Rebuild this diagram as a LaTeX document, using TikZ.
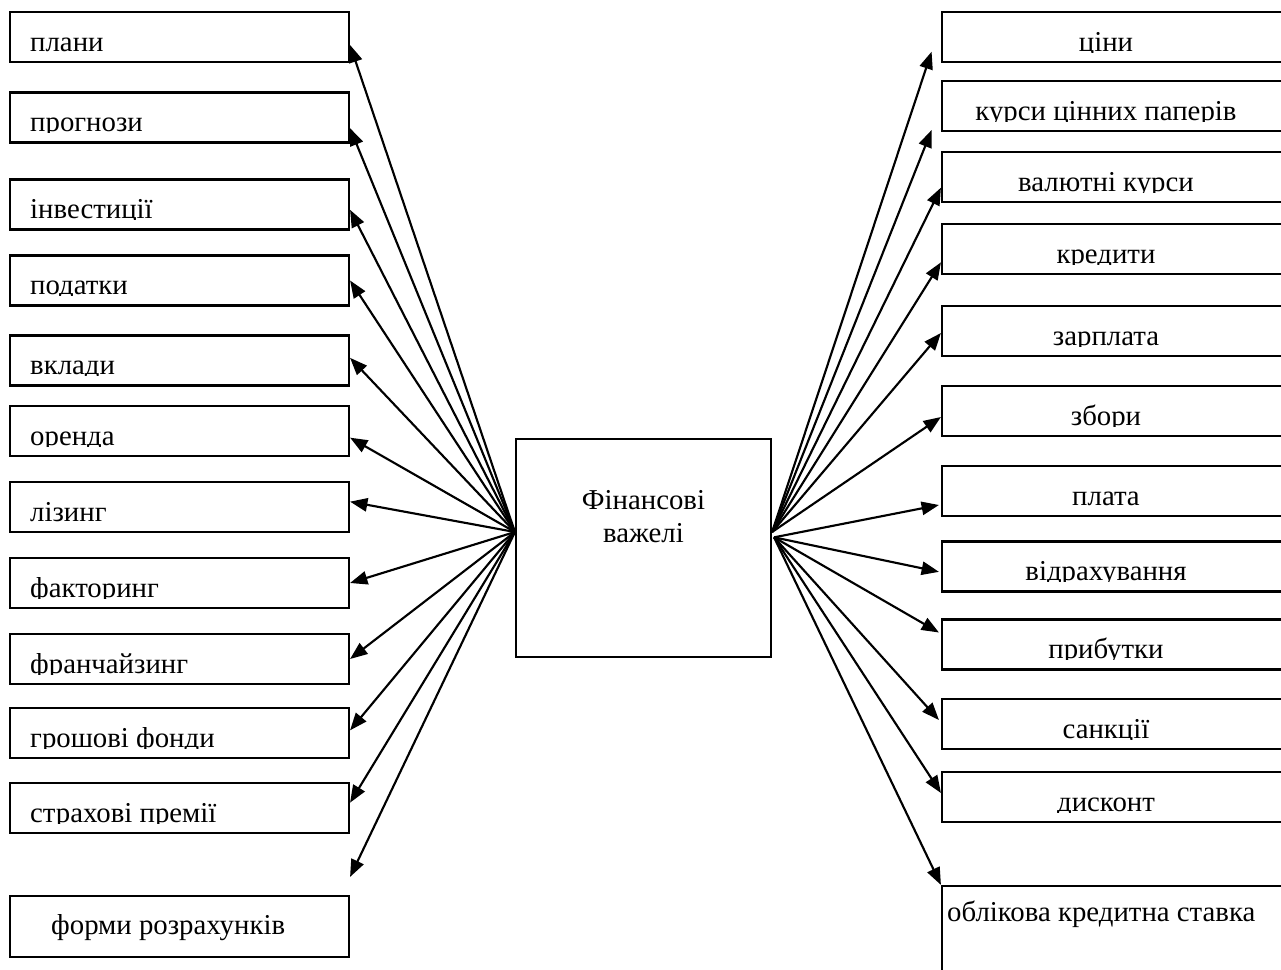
\documentclass[tikz,border=0pt]{standalone}
\usepackage{fontspec}
\setmainfont{Liberation Serif}
\usetikzlibrary{arrows.meta}

\begin{document}
\begin{tikzpicture}[x=0.75pt, y=-0.75pt,
		lbox/.style={draw, line width=1.6pt, minimum width=254.25pt, minimum height=37.5pt, inner sep=0pt},
		rbox/.style={draw, line width=1.6pt, minimum width=261pt, minimum height=37.5pt, inner sep=0pt},
		ltext/.style={anchor=base west, inner sep=0pt, font=\fontsize{21.6pt}{25pt}\selectfont},
		rtext/.style={anchor=base, inner sep=0pt, font=\fontsize{21.6pt}{25pt}\selectfont},
		ctext/.style={anchor=north, align=center, inner sep=0pt, font=\fontsize{21.6pt}{24.75pt}\selectfont},
		lever/.style={-{Triangle[length=13pt, width=10pt]}, line width=1.6pt}]

			\useasboundingbox (0,0) rectangle (1281,970);

			\node[lbox] (plany) at (179.5,37) {};
			\node[lbox] (prognozy) at (179.5,117.5) {};
			\node[lbox] (investytsii) at (179.5,204.5) {};
			\node[lbox] (podatky) at (179.5,280.5) {};
			\node[lbox] (vklady) at (179.5,360.5) {};
			\node[lbox] (orenda) at (179.5,431) {};
			\node[lbox] (lizynh) at (179.5,507) {};
			\node[lbox] (faktorynh) at (179.5,583) {};
			\node[lbox] (franchaizynh) at (179.5,659) {};
			\node[lbox] (fondy) at (179.5,733) {};
			\node[lbox] (premii) at (179.5,808) {};
			\node[lbox, minimum height=45.75pt] (formy) at (179.5,926.5) {};

			\node[rbox] (tsiny) at (1116,37) {};
			\node[rbox] (kursy) at (1116,106) {};
			\node[rbox] (valiutni) at (1116,177) {};
			\node[rbox] (kredyty) at (1116,249) {};
			\node[rbox] (zarplata) at (1116,331) {};
			\node[rbox] (zbory) at (1116,411) {};
			\node[rbox] (plata) at (1116,491) {};
			\node[rbox] (vidrakh) at (1116,566.5) {};
			\node[rbox] (prybutky) at (1116,644.5) {};
			\node[rbox] (sanktsii) at (1116,724) {};
			\node[rbox] (dyskont) at (1116,797) {};
			\node[rbox, minimum height=75pt] (oblikova) at (1116,936) {};

			\node[draw, line width=1.6pt, minimum width=191.25pt, minimum height=163.5pt] (fv) at (643.5,548) {};
			\node[ctext] (fv-t) at ([yshift=-39pt]fv.north) {Фінансові\\важелі};

			\begin{scope}
				\clip (plany.north west) rectangle ([yshift=8pt]plany.south east)
					(prognozy.north west) rectangle ([yshift=8pt]prognozy.south east)
					(investytsii.north west) rectangle ([yshift=8pt]investytsii.south east)
					(podatky.north west) rectangle ([yshift=8pt]podatky.south east)
					(vklady.north west) rectangle ([yshift=8pt]vklady.south east)
					(orenda.north west) rectangle ([yshift=8pt]orenda.south east)
					(lizynh.north west) rectangle ([yshift=8pt]lizynh.south east)
					(faktorynh.north west) rectangle ([yshift=8pt]faktorynh.south east)
					(franchaizynh.north west) rectangle ([yshift=8pt]franchaizynh.south east)
					(fondy.north west) rectangle ([yshift=8pt]fondy.south east)
					(premii.north west) rectangle ([yshift=8pt]premii.south east);
				\node[ltext] (plany-t) at ([xshift=15.75pt,yshift=9pt]plany.south west) {плани};
				\node[ltext] (prognozy-t) at ([xshift=15.75pt,yshift=9pt]prognozy.south west) {прогнози};
				\node[ltext] (investytsii-t) at ([xshift=15.75pt,yshift=9pt]investytsii.south west) {інвестиції};
				\node[ltext] (podatky-t) at ([xshift=15.75pt,yshift=9pt]podatky.south west) {податки};
				\node[ltext] (vklady-t) at ([xshift=15.75pt,yshift=9pt]vklady.south west) {вклади};
				\node[ltext] (orenda-t) at ([xshift=15.75pt,yshift=9pt]orenda.south west) {оренда};
				\node[ltext] (lizynh-t) at ([xshift=15.75pt,yshift=9pt]lizynh.south west) {лізинг};
				\node[ltext] (faktorynh-t) at ([xshift=15.75pt,yshift=9pt]faktorynh.south west) {факторинг};
				\node[ltext] (franchaizynh-t) at ([xshift=15.75pt,yshift=9pt]franchaizynh.south west) {франчайзинг};
				\node[ltext] (fondy-t) at ([xshift=15.75pt,yshift=9pt]fondy.south west) {грошові фонди};
				\node[ltext] (premii-t) at ([xshift=15.75pt,yshift=9pt]premii.south west) {страхові премії};
			\end{scope}
			\node[ltext] (formy-t) at ([xshift=31.5pt,yshift=18pt]formy.south west) {форми розрахунків};

			\begin{scope}
				\clip (tsiny.north west) rectangle ([yshift=8pt]tsiny.south east)
					(kursy.north west) rectangle ([yshift=8pt]kursy.south east)
					(valiutni.north west) rectangle ([yshift=8pt]valiutni.south east)
					(kredyty.north west) rectangle ([yshift=8pt]kredyty.south east)
					(zarplata.north west) rectangle ([yshift=8pt]zarplata.south east)
					(zbory.north west) rectangle ([yshift=8pt]zbory.south east)
					(plata.north west) rectangle ([yshift=8pt]plata.south east)
					(vidrakh.north west) rectangle ([yshift=8pt]vidrakh.south east)
					(prybutky.north west) rectangle ([yshift=8pt]prybutky.south east)
					(sanktsii.north west) rectangle ([yshift=8pt]sanktsii.south east)
					(dyskont.north west) rectangle ([yshift=8pt]dyskont.south east);
				\node[rtext] (tsiny-t) at ([xshift=-7.5pt,yshift=9pt]tsiny.south) {ціни};
				\node[rtext] (kursy-t) at ([xshift=-7.5pt,yshift=9pt]kursy.south) {курси цінних паперів};
				\node[rtext] (valiutni-t) at ([xshift=-7.5pt,yshift=9pt]valiutni.south) {валютні курси};
				\node[rtext] (kredyty-t) at ([xshift=-7.5pt,yshift=9pt]kredyty.south) {кредити};
				\node[rtext] (zarplata-t) at ([xshift=-7.5pt,yshift=9pt]zarplata.south) {зарплата};
				\node[rtext] (zbory-t) at ([xshift=-7.5pt,yshift=9pt]zbory.south) {збори};
				\node[rtext] (plata-t) at ([xshift=-7.5pt,yshift=9pt]plata.south) {плата};
				\node[rtext] (vidrakh-t) at ([xshift=-7.5pt,yshift=9pt]vidrakh.south) {відрахування};
				\node[rtext] (prybutky-t) at ([xshift=-7.5pt,yshift=9pt]prybutky.south) {прибутки};
				\node[rtext] (sanktsii-t) at ([xshift=-7.5pt,yshift=9pt]sanktsii.south) {санкції};
				\node[rtext] (dyskont-t) at ([xshift=-7.5pt,yshift=9pt]dyskont.south) {дисконт};
			\end{scope}
			\node[ltext] (oblikova-t) at ([xshift=4.5pt,yshift=-27.75pt]oblikova.north west) {облікова кредитна ставка};

			\coordinate (fv-l) at ([yshift=12pt]fv.west);
			\coordinate (fv-r) at ([yshift=12pt]fv.east);
			\coordinate (fv-r2) at ([xshift=1.5pt,yshift=8pt]fv.east);
			\coordinate (formy-end) at ([yshift=13.5pt]formy.north east);

			\draw[lever] (fv-l) -- ([yshift=-6pt]plany.east);
			\draw[lever] (fv-l) -- ([yshift=-8pt]prognozy.east);
			\draw[lever] (fv-l) -- ([yshift=-4pt]investytsii.east);
			\draw[lever] (fv-l) -- (podatky.east);
			\draw[lever] (fv-l) -- ([yshift=2pt]vklady.east);
			\draw[lever] (fv-l) -- ([yshift=-5pt]orenda.east);
			\draw[lever] (fv-l) -- ([yshift=4pt]lizynh.east);
			\draw[lever] (fv-l) -- (faktorynh.east);
			\draw[lever] (fv-l) -- (franchaizynh.east);
			\draw[lever] (fv-l) -- ([yshift=2pt]fondy.east);
			\draw[lever] (fv-l) -- ([yshift=4pt]premii.east);
			\draw[lever] (fv-l) -- (formy-end);

			\draw[lever] (fv-r) -- ([xshift=-7pt,yshift=-11pt]tsiny.west);
			\draw[lever] (fv-r) -- ([xshift=-7pt,yshift=-18pt]kursy.west);
			\draw[lever] (fv-r) -- ([yshift=-8pt]valiutni.west);
			\draw[lever] (fv-r) -- ([yshift=-10pt]kredyty.west);
			\draw[lever] (fv-r) -- ([yshift=-1.5pt]zarplata.west);
			\draw[lever] (fv-r) -- ([yshift=-4.5pt]zbory.west);
			\draw[lever] (fv-r2) -- ([xshift=-1.5pt,yshift=-10.5pt]plata.west);
			\draw[lever] (fv-r2) -- ([xshift=-1.5pt,yshift=-4pt]vidrakh.west);
			\draw[lever] (fv-r2) -- ([xshift=-1.5pt,yshift=9pt]prybutky.west);
			\draw[lever] (fv-r2) -- ([xshift=-1.5pt,yshift=3pt]sanktsii.west);
			\draw[lever] (fv-r2) -- ([yshift=3pt]dyskont.west);
			\draw[lever] (fv-r2) -- (oblikova.north west);
		\end{tikzpicture}
\end{document}
